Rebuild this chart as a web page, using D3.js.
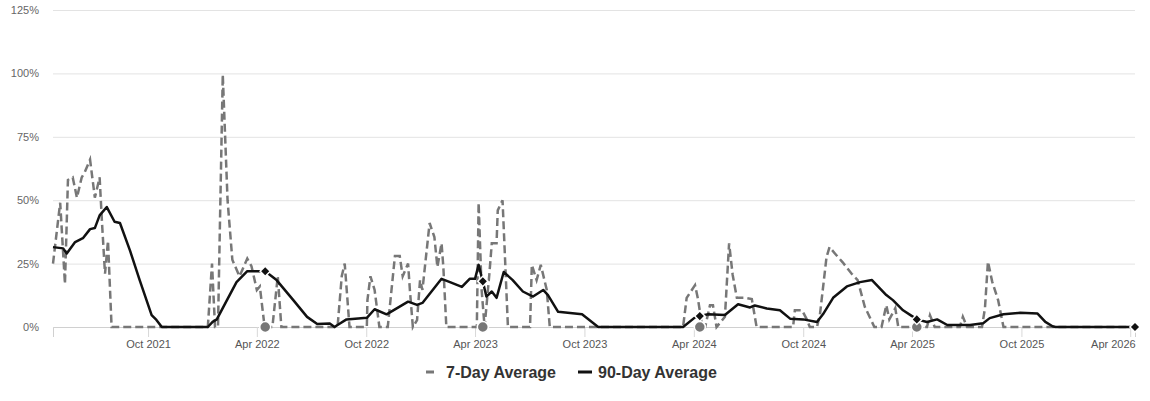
<!DOCTYPE html>
<html>
<head>
<meta charset="utf-8">
<script src="https://cdn.jsdelivr.net/npm/d3@7"></script>
<style>
body { margin: 0; background: #fff; }
svg { font-family: "Liberation Sans", Arial, sans-serif; }
</style>
</head>
<body>
<svg id="chart" width="1150" height="401"></svg>
<script>
// 7-day average (percent)
var sevenDayDates = ["2021-04-25","2021-05-07","2021-05-15","2021-05-20","2021-05-28","2021-06-04","2021-06-12","2021-06-17","2021-06-26","2021-07-04","2021-07-12","2021-07-16","2021-07-21","2021-07-26","2021-08-01",
  "2022-01-09","2022-01-16","2022-01-21","2022-01-26","2022-02-03","2022-02-11","2022-02-19","2022-03-03","2022-03-16","2022-03-23","2022-04-01","2022-04-06","2022-04-14","2022-04-27","2022-05-06","2022-05-12",
  "2022-08-14","2022-08-21","2022-08-26","2022-09-03",
  "2022-10-02","2022-10-03","2022-10-08","2022-10-15","2022-10-23",
  "2022-11-06","2022-11-18","2022-11-26","2022-12-01","2022-12-10","2022-12-13","2022-12-18","2022-12-25","2022-12-30","2023-01-03","2023-01-15","2023-01-23","2023-01-28","2023-02-04","2023-02-07","2023-02-12",
  "2023-04-04","2023-04-07","2023-04-12","2023-04-17","2023-04-20","2023-04-25","2023-04-29","2023-05-07","2023-05-09","2023-05-17","2023-05-21","2023-05-26",
  "2023-07-02","2023-07-05","2023-07-13","2023-07-20","2023-07-30","2023-08-04",
  "2024-03-14","2024-03-20","2024-04-03","2024-04-08","2024-04-15","2024-04-20","2024-04-28","2024-05-03","2024-05-09","2024-05-23","2024-05-30","2024-06-05","2024-06-12","2024-06-25","2024-07-07","2024-07-15",
  "2024-09-14","2024-09-17","2024-09-29","2024-10-07","2024-10-12","2024-10-24","2024-10-29","2024-11-09","2024-11-14","2024-11-23","2024-12-06","2024-12-21","2024-12-31","2025-01-12","2025-01-28","2025-02-09","2025-02-17","2025-02-22","2025-03-04","2025-03-09",
  "2025-04-26","2025-05-01","2025-05-09","2025-06-20","2025-06-25","2025-07-02","2025-07-27","2025-08-01","2025-08-06","2025-08-13","2025-08-23","2025-09-01","2026-04-09"]
var sevenDayValues = [25,49,17,58,59,51,59,61,66,51,59,41,21,34,0,
  0,25,0,0,99.5,50,26.5,20,27,24,14.6,16,0,0,20,0,
  0,20,25,0,
  0,10.6,20,14.6,0,
  0,28,28,20,25,14.6,0,2.7,18.5,14.6,41,35.5,23.6,33,23.6,0,
  0,49,14.6,0,8,21,33,33,46,50,28,0,
  0,24.5,18.5,24.5,14.6,0,
  0,11.5,16.5,11,0,0,8.6,8.6,0,4,33,20.5,11.5,11.5,11,0,
  0,6.6,6.6,3,0,0,5,27.6,31.5,29,25.5,21,18.5,8,0,0,8.6,3,7.4,0,
  0,4.6,0,0,4,0,0,7.4,25.8,18,10.6,0,0]

// 90-day average (percent)
var ninetyDayDates = ["2021-04-25","2021-05-12","2021-05-18","2021-06-01","2021-06-14","2021-06-26","2021-07-04","2021-07-12","2021-07-24","2021-08-06","2021-08-15","2021-09-01","2021-09-17","2021-10-07","2021-10-15","2021-10-24",
  "2022-01-09","2022-01-17","2022-01-24","2022-02-10","2022-02-26","2022-03-16","2022-04-01","2022-04-15","2022-05-04","2022-06-01","2022-06-24","2022-07-11","2022-08-01","2022-08-09","2022-08-14","2022-08-29","2022-10-02","2022-10-15","2022-11-04","2022-12-10","2022-12-25",
  "2023-01-03","2023-02-04","2023-02-17","2023-03-10","2023-03-23","2023-04-01","2023-04-07","2023-04-14","2023-04-20","2023-04-29","2023-05-07","2023-05-19","2023-06-03","2023-06-20","2023-07-07","2023-07-24","2023-08-01","2023-08-18","2023-09-27","2023-10-24",
  "2024-03-14","2024-04-03","2024-04-11","2024-04-25","2024-05-23","2024-06-14","2024-07-04","2024-07-12","2024-08-01","2024-08-23","2024-09-09","2024-10-01","2024-10-24","2024-11-03","2024-11-20","2024-12-13",
  "2025-01-04","2025-01-24","2025-02-03","2025-02-17","2025-02-28","2025-03-17","2025-04-01","2025-04-09","2025-04-26","2025-05-13","2025-05-30","2025-07-07","2025-07-29","2025-08-09","2025-09-01","2025-09-29","2025-10-28","2025-11-10","2025-11-22","2025-11-27",
  "2026-04-09"]
var ninetyDayValues = [31.5,31,29,33.5,35,38.6,39,44,47.3,41.5,41,30,18.5,4.7,2.8,0,
  0,2,3,10.6,17.7,22,22,22,18.5,10.6,4,1.2,1.4,0,0.8,3,3.6,7,5,10,8.7,
  9.5,19,17.8,15.8,19,19,24.5,18,12,14,11.5,21.7,18.5,14,12,14.6,12.6,6,5,0,
  0,3.8,4.3,5,4.7,9,7.7,8.5,7.3,6.6,3.3,3,2,5,11.5,16,
  17.7,18.5,16,12.6,10.6,6.6,4.3,3,2,3,0.8,0.8,1.5,3.5,5,5.6,5.3,2,0.3,0,
  0]

// yearly markers
var markerDates = ["2022-04-15","2023-04-14","2024-04-11","2025-04-09","2026-04-09"]
var markerNinety = [22,18,4.3,3,0]
var markerSeven = [0,0,0,0,null]

var yTickValues = [0,25,50,75,100,125]
var xTickDates = ["2021-10-01","2022-04-01","2022-10-01","2023-04-01","2023-10-01","2024-04-01","2024-10-01","2025-04-01","2025-10-01","2026-04-01"]

var parse = d3.timeParse("%Y-%m-%d")
var margin = {top: 10, right: 15, bottom: 74, left: 53}
var width = 1150 - margin.left - margin.right
var height = 401 - margin.top - margin.bottom

var svg = d3.select("#chart")
var g = svg.append("g").attr("transform", "translate(" + margin.left + "," + margin.top + ")")

var x = d3.scaleTime()
    .domain([parse("2021-04-25"), parse("2026-04-09")])
    .range([0, width])
var y = d3.scaleLinear()
    .domain([0, 125])
    .range([height, 0])

// gridlines + y labels
g.append("g")
    .call(d3.axisLeft(y).tickValues(yTickValues).tickSize(-width).tickFormat(function(d){ return d + "%" }))
    .call(function(a){
      a.select(".domain").remove()
      a.selectAll(".tick line").attr("stroke", "#e3e3e3")
      a.selectAll(".tick text").attr("x", -14).attr("fill", "#666").style("font-size", "11px")
    })

// x axis
g.append("g")
    .attr("transform", "translate(0," + height + ")")
    .call(d3.axisBottom(x).tickValues(xTickDates.map(parse)).tickSize(10).tickFormat(d3.timeFormat("%b %Y")))
    .call(function(a){
      a.select(".domain").attr("stroke", "#d0d0d0")
      a.selectAll(".tick line").attr("stroke", "#d8d8d8")
      a.selectAll(".tick text").attr("y", 13).attr("fill", "#555").style("font-size", "11px")
      // keep the last label inside the plot edge
      a.selectAll(".tick text").filter(function(d, i, n){ return i == n.length - 1 })
        .attr("text-anchor", "end").attr("x", 5)
    })

var seven = sevenDayDates.map(function(d, i){ return {date: parse(d), value: sevenDayValues[i]} })
var ninety = ninetyDayDates.map(function(d, i){ return {date: parse(d), value: ninetyDayValues[i]} })

var line = d3.line()
    .x(function(d){ return x(d.date) })
    .y(function(d){ return y(d.value) })

g.append("path")
    .datum(seven)
    .attr("fill", "none")
    .attr("stroke", "#777")
    .attr("stroke-width", 2.5)
    .attr("stroke-dasharray", "8,4")
    .attr("d", line)

g.append("path")
    .datum(ninety)
    .attr("fill", "none")
    .attr("stroke", "#111")
    .attr("stroke-width", 2.5)
    .attr("stroke-linejoin", "round")
    .attr("d", line)

var markers = markerDates.map(function(d, i){ return {date: parse(d), ninety: markerNinety[i], seven: markerSeven[i]} })

g.selectAll("circle.m7")
    .data(markers.filter(function(d){ return d.seven != null }))
    .enter().append("circle")
    .attr("class", "m7")
    .attr("cx", function(d){ return x(d.date) })
    .attr("cy", function(d){ return y(d.seven) })
    .attr("r", 5.5)
    .attr("fill", "#777")
    .attr("stroke", "#fff")
    .attr("stroke-width", 1.5)

g.selectAll("path.m90")
    .data(markers)
    .enter().append("path")
    .attr("class", "m90")
    .attr("d", d3.symbol().type(d3.symbolSquare).size(52))
    .attr("transform", function(d){ return "translate(" + x(d.date) + "," + y(d.ninety) + ") rotate(45)" })
    .attr("fill", "#111")
    .attr("stroke", "#fff")
    .attr("stroke-width", 1.5)

// legend
var legend = svg.append("g").attr("transform", "translate(0,372)")
legend.append("line")
    .attr("x1", 426).attr("x2", 434).attr("y1", 0).attr("y2", 0)
    .attr("stroke", "#777").attr("stroke-width", 3)
legend.append("text")
    .attr("x", 446).attr("y", 6)
    .attr("fill", "#333").style("font-size", "16px").style("font-weight", "bold")
    .text("7-Day Average")
legend.append("line")
    .attr("x1", 578).attr("x2", 592).attr("y1", 0).attr("y2", 0)
    .attr("stroke", "#111").attr("stroke-width", 3)
legend.append("text")
    .attr("x", 598).attr("y", 6)
    .attr("fill", "#333").style("font-size", "16px").style("font-weight", "bold")
    .text("90-Day Average")
</script>
</body>
</html>
